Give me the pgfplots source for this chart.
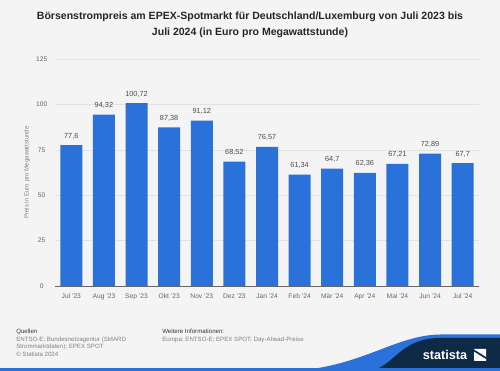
\documentclass[border=0pt]{standalone}
\usepackage{pgfplots}
\pgfplotsset{compat=1.18}
\usepackage{fontspec}
\setmainfont{Liberation Sans}
\definecolor{bg}{HTML}{F4F4F4}
\definecolor{barblue}{HTML}{2A72DA}
\definecolor{navy}{HTML}{0F2A47}
\definecolor{ticktxt}{HTML}{666666}
\definecolor{gridc}{HTML}{E2E2E2}
\pgfplotstableread{
x val lab
0 77.6 {77,6}
1 94.32 {94,32}
2 100.72 {100,72}
3 87.38 {87,38}
4 91.12 {91,12}
5 68.52 {68,52}
6 76.57 {76,57}
7 61.34 {61,34}
8 64.7 {64,7}
9 62.36 {62,36}
10 67.21 {67,21}
11 72.89 {72,89}
12 67.7 {67,7}
}\datatable
\begin{document}
\begin{tikzpicture}
\begin{scope}[x=0.75pt,y=0.75pt]
\fill[bg] (0,0) rectangle (500,371);
% footer logo decoration
\fill[barblue] (290,0) .. controls (360,3) and (395,36) .. (440,36.5) -- (500,36.5) -- (500,0) -- cycle;
\fill[navy] (370,0) .. controls (395,5) and (400,33) .. (440,33) -- (500,33) -- (500,0) -- cycle;
\fill[barblue] (0,0) rectangle (500,2.5);
\node[white, font=\fontsize{9.5}{10}\selectfont\bfseries, anchor=center, inner sep=0] at (445,16) {statista};
\fill[white] (474,10) -- (486,10) -- (486,22) -- cycle;
\fill[white] (474,10) -- (474,22) -- (486,22) -- cycle;
\fill[navy] (474,19.5) -- (486,12) -- (486,14) -- (474,21.5)-- cycle;
% title
\node[font=\fontsize{7.9}{12}\selectfont\bfseries, align=center, text=black!85] at (250,346)
{Börsenstrompreis am EPEX-Spotmarkt für Deutschland/Luxemburg von Juli 2023 bis\\Juli 2024 (in Euro pro Megawattstunde)};
% footer text
\node[anchor=north west, font=\fontsize{4.6}{5.6}\selectfont, align=left, inner sep=0] at (16,42)
{\textcolor{black!80}{Quellen}\\\textcolor{black!50}{ENTSO-E; Bundesnetzagentur (SMARD}\\\textcolor{black!50}{Strommarktdaten); EPEX SPOT}\\\textcolor{black!50}{© Statista 2024}};
\node[anchor=north west, font=\fontsize{4.6}{5.6}\selectfont, align=left, inner sep=0] at (162,42)
{\textcolor{black!80}{Weitere Informationen:}\\\textcolor{black!50}{Europa; ENTSO-E; EPEX SPOT; Day-Ahead-Preise}};
\end{scope}
\begin{axis}[
  at={(41.25pt,63.75pt)}, anchor=south west,
  scale only axis, width=318pt, height=170.25pt,
  xmin=-0.5, xmax=12.5, ymin=0, ymax=125,
  axis line style={draw=none},
  axis x line*=bottom,
  xtick=data,
  xticklabels={Jul '23,Aug '23,Sep '23,Okt '23,Nov '23,Dez '23,Jan '24,Feb '24,Mär '24,Apr '24,Mai '24,Jun '24,Jul '24},
  ytick={0,25,50,75,100,125},
  yticklabels={0,25,50,75,100,125},
  ymajorgrids, grid style={gridc, line width=0.4pt},
  major tick length=0,
  tick label style={font=\fontsize{5}{6}\selectfont, text=ticktxt},
  xticklabel style={yshift=-2pt},
  yticklabel style={anchor=center, xshift=-10pt},
  ylabel={Preis in Euro pro Megawattstunde},
  ylabel style={font=\fontsize{4.6}{5}\selectfont, text=black!50, at={(axis description cs:-0.066,0.5)}, anchor=center},
  clip=false,
]
\addplot[ybar, bar width=16.5pt, fill=barblue, draw=none,
  nodes near coords={\pgfplotspointmeta},
  point meta=explicit symbolic,
  every node near coord/.append style={font=\fontsize{5.5}{6}\selectfont, text=black!70, yshift=1pt}]
  table[x=x, y=val, meta=lab] {\datatable};
\draw[black!60, line width=0.5pt] (axis cs:-0.5,0) -- (axis cs:12.5,0);
\end{axis}
\pgfresetboundingbox
\useasboundingbox (0,0) rectangle (375pt,278.25pt);
\end{tikzpicture}
\end{document}
